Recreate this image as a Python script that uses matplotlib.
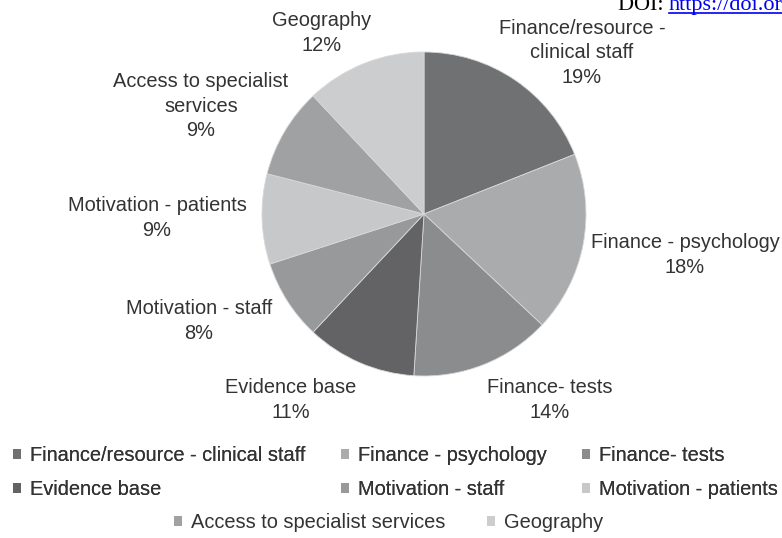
import matplotlib
matplotlib.use("Agg")
import matplotlib.pyplot as plt
from matplotlib.patches import Patch
from matplotlib.lines import Line2D

# Reported barriers (share of responses, %)
categories = [
    "Finance/resource - clinical staff",
    "Finance - psychology",
    "Finance- tests",
    "Evidence base",
    "Motivation - staff",
    "Motivation - patients",
    "Access to specialist services",
    "Geography",
]
values = [19, 18, 14, 11, 8, 9, 9, 12]
slice_labels = [
    "Finance/resource -\nclinical staff",
    "Finance - psychology",
    "Finance- tests",
    "Evidence base",
    "Motivation - staff",
    "Motivation - patients",
    "Access to specialist\nservices",
    "Geography",
]
colors = ["#707172", "#a9abad", "#8b8c8e", "#636365", "#98999b",
          "#c6c8ca", "#a0a1a3", "#cbcdcf"]

W, H = 782, 538
FONT = "Liberation Sans"
TXT = "#333333"
FS = 14.4

fig = plt.figure(figsize=(W / 100, H / 100), dpi=100)
fig.patch.set_facecolor("white")


def fx(px):
    return px / W


def fy(py):
    return 1 - py / H


# pie axes: centre (424, 214) px, radius 162 px
cx, cy, r = 424, 214, 162
ax = fig.add_axes([fx(cx - r), fy(cy + r), 2 * r / W, 2 * r / H])
ax.pie(values, colors=colors, startangle=90, counterclock=False, radius=1,
       wedgeprops=dict(edgecolor="#d8d8d8", linewidth=0.6))
ax.set_xlim(-1, 1)
ax.set_ylim(-1, 1)
ax.set_aspect("equal")
ax.axis("off")

# data label block centres (px)
label_pos = [(582, 53), (685, 255), (550, 400), (291, 400),
             (199, 321), (157, 218), (201, 106), (322, 33)]
for lab, v, (px, py) in zip(slice_labels, values, label_pos):
    fig.text(fx(px), fy(py), f"{lab}\n{v}%", ha="center", va="center",
             fontsize=FS, family=FONT, color=TXT, linespacing=1.37)

# legend: two full rows, then a centred third row
def handle(c):
    return Patch(facecolor=c, edgecolor="none")

order = [0, 3, 1, 4, 2, 5]
leg1 = fig.legend([handle(colors[i]) for i in order], [categories[i] for i in order],
                  ncol=3, loc="upper left", bbox_to_anchor=(fx(13), fy(446)),
                  frameon=False, borderpad=0, borderaxespad=0,
                  handlelength=0.4, handleheight=0.4, handletextpad=0.45,
                  columnspacing=1.78, labelspacing=0.75,
                  prop=dict(family=FONT, size=FS))
for t in leg1.get_texts():
    t.set_color(TXT)
leg2 = fig.legend([handle(colors[i]) for i in (6, 7)], [categories[i] for i in (6, 7)],
                  ncol=2, loc="upper left", bbox_to_anchor=(fx(174), fy(513)),
                  frameon=False, borderpad=0, borderaxespad=0,
                  handlelength=0.4, handleheight=0.4, handletextpad=0.45,
                  columnspacing=2.1, prop=dict(family=FONT, size=FS))
for t in leg2.get_texts():
    t.set_color(TXT)
fig.add_artist(leg1)

# citation line at the top right
doi = fig.text(fx(618), fy(10), "DOI: ", ha="left", va="baseline",
               fontsize=16, family="Liberation Serif", color="black")
fig.canvas.draw()
bb = doi.get_window_extent()
link = fig.text(bb.x1 / W, fy(10), "https://doi.org/", ha="left", va="baseline",
                fontsize=16, family="Liberation Serif", color="#0000ee")
fig.canvas.draw()
lb = link.get_window_extent()
fig.add_artist(Line2D([lb.x0 / W, lb.x1 / W], [fy(12.5), fy(12.5)],
                      transform=fig.transFigure, color="#0000ee", linewidth=1.2))

fig.savefig("out.png", dpi=100, facecolor="white")
